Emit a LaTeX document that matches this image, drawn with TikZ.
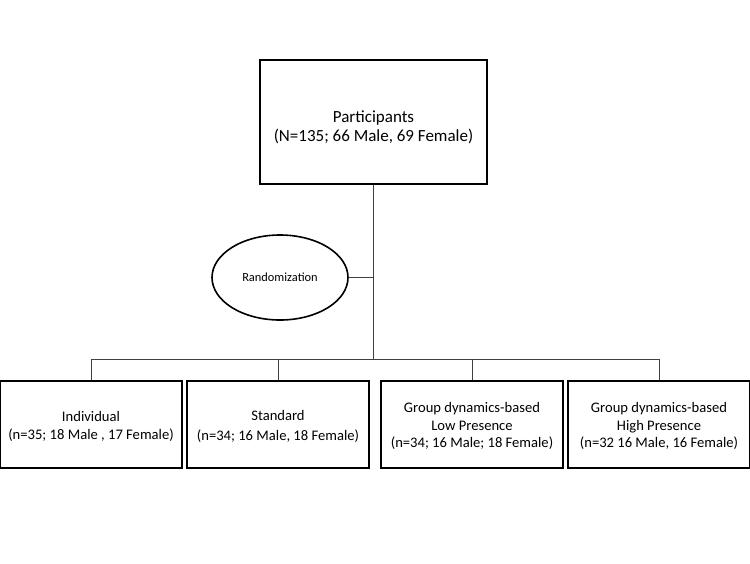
\documentclass[tikz,border=0pt]{standalone}
\usepackage{fontspec}
\setmainfont{Carlito}
\usetikzlibrary{shapes.geometric}
\begin{document}
\begin{tikzpicture}[x=1pt,y=-1pt,
  box/.style={draw=black,line width=1.8pt,rectangle,align=center,inner sep=0pt},
  topbox/.style={box,minimum width=227pt,minimum height=124pt,font=\fontsize{17}{19.5}\selectfont},
  armbox/.style={box,minimum width=182pt,minimum height=87pt,font=\fontsize{14.6}{17.5}\selectfont},
  conn/.style={draw=black!75,line width=0.9pt},
  randell/.style={draw=black,line width=1.6pt,ellipse,minimum width=136pt,minimum height=85pt,inner sep=0pt,font=\fontsize{12.4}{14}\selectfont}]
\useasboundingbox (0,0) rectangle (750,563);
\fill[white] (0,0) rectangle (750,563);
\node[topbox] (top) at (373.5,122) {\rule{0pt}{22pt}Participants\\ (N=135; 66 Male, 69 Female)};
\node[randell] (rand) at (280,277.5) {Randomization};
\coordinate (bus) at (373.5,359);
\node[armbox] (b1) at (91,424.5) {\rule{0pt}{14pt}Individual\\(n=35; 18 Male , 17 Female)};
\node[armbox] (b2) at (278,424.5) {\rule{0pt}{14pt}Standard\\[2pt](n=34; 16 Male, 18 Female)};
\node[armbox] (b3) at (472,424.5) {\rule{0pt}{14pt}Group dynamics-based\\Low Presence\\(n=34; 16 Male; 18 Female)};
\node[armbox] (b4) at (659,424.5) {\rule{0pt}{14pt}Group dynamics-based\\High Presence\\(n=32 16 Male, 16 Female)};
\draw[conn] (top.south) -- (bus);
\draw[conn] (rand.east) -- (rand.east -| bus);
\draw[conn] (b1.north |- bus) -- (b4.north |- bus);
\draw[conn] (b1.north) -- (b1.north |- bus);
\draw[conn] (b2.north) -- (b2.north |- bus);
\draw[conn] (b3.north) -- (b3.north |- bus);
\draw[conn] (b4.north) -- (b4.north |- bus);
\end{tikzpicture}
\end{document}
